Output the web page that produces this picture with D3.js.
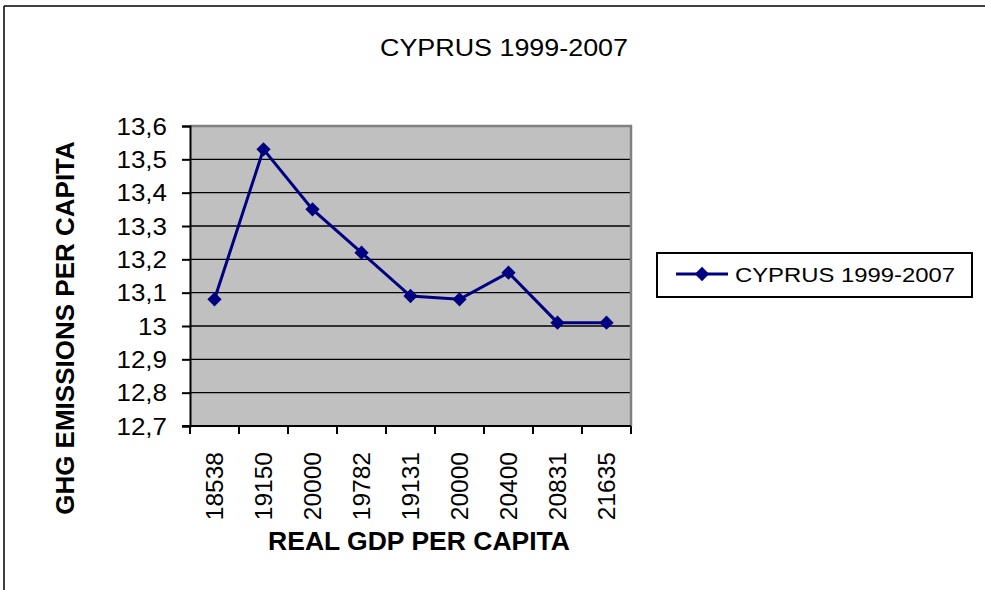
<!DOCTYPE html>
<html>
<head>
<meta charset="utf-8">
<script src="https://cdn.jsdelivr.net/npm/d3@7"></script>
<style>
  html, body { margin: 0; padding: 0; background: #fff; }
  svg { display: block; font-family: Arial, "Liberation Sans", sans-serif; }
</style>
</head>
<body>
<div id="chart"></div>
<script>
// data
const gdpLabels = ["18538", "19150", "20000", "19782", "19131", "20000", "20400", "20831", "21635"]
const ghgValues = [13.08, 13.53, 13.35, 13.22, 13.09, 13.08, 13.16, 13.01, 13.01]
const yTickValues = [12.7, 12.8, 12.9, 13.0, 13.1, 13.2, 13.3, 13.4, 13.5, 13.6]
const chartTitle = "CYPRUS 1999-2007"
const seriesName = "CYPRUS 1999-2007"

const W = 985, H = 590
const plot = { left: 190, top: 126, right: 631, bottom: 426 }

const svg = d3.select("#chart").append("svg")
    .attr("width", W)
    .attr("height", H)

// outer frame (only top and left edges are visible)
svg.append("line").attr("x1", 4).attr("x2", W).attr("y1", 6).attr("y2", 6)
    .attr("stroke", "#000").attr("stroke-width", 1.5)
svg.append("line").attr("x1", 4).attr("x2", 4).attr("y1", 6).attr("y2", H)
    .attr("stroke", "#000").attr("stroke-width", 1.5)

const x = d3.scaleBand()
    .domain(gdpLabels.map((d, i) => i))
    .range([plot.left, plot.right])
const y = d3.scaleLinear()
    .domain([12.7, 13.6])
    .range([plot.bottom, plot.top])

const comma = d3.formatLocale({ decimal: ",", thousands: ".", grouping: [3], currency: ["", ""] })
const fmt = v => comma.format(".1f")(v).replace(",0", "")

// plot background
svg.append("rect")
    .attr("x", plot.left).attr("y", plot.top)
    .attr("width", plot.right - plot.left).attr("height", plot.bottom - plot.top)
    .attr("fill", "#c0c0c0")

// gridlines
svg.append("g").selectAll("line")
    .data(yTickValues.slice(1, -1))
    .enter().append("line")
    .attr("x1", plot.left).attr("x2", plot.right)
    .attr("y1", d => y(d)).attr("y2", d => y(d))
    .attr("stroke", "#000").attr("stroke-width", 1.3)

// gray top and right border
svg.append("path")
    .attr("d", `M${plot.left},${plot.top}H${plot.right}V${plot.bottom}`)
    .attr("fill", "none").attr("stroke", "#808080").attr("stroke-width", 2.5)

// y axis
const yAxis = svg.append("g")
    .attr("transform", `translate(${plot.left},0)`)
    .call(d3.axisLeft(y).tickValues(yTickValues).tickSize(8).tickFormat(fmt))
yAxis.select(".domain").attr("stroke", "#000").attr("stroke-width", 2)
yAxis.selectAll(".tick line").attr("stroke", "#000").attr("stroke-width", 2)
yAxis.selectAll(".tick text")
    .attr("x", null).attr("dy", null)
    .attr("font-size", 23)
    .attr("fill", "#000")
    .attr("text-anchor", "end")
    .attr("transform", "translate(-23,8) scale(1.13,1)")

// x axis: ticks on category boundaries
const xBounds = gdpLabels.map((d, i) => x(i)).concat([plot.right])
svg.append("line")
    .attr("x1", plot.left - 8).attr("x2", plot.right)
    .attr("y1", plot.bottom).attr("y2", plot.bottom)
    .attr("stroke", "#000").attr("stroke-width", 2)
svg.append("g").selectAll("line")
    .data(xBounds)
    .enter().append("line")
    .attr("x1", d => d).attr("x2", d => d)
    .attr("y1", plot.bottom).attr("y2", plot.bottom + 8)
    .attr("stroke", "#000").attr("stroke-width", 2)

svg.append("g").selectAll("text")
    .data(gdpLabels)
    .enter().append("text")
    .attr("transform", (d, i) => `translate(${x(i) + x.bandwidth() / 2},452) rotate(-90)`)
    .attr("dy", "0.36em")
    .attr("text-anchor", "end")
    .attr("font-size", 24.5)
    .attr("fill", "#000")
    .text(d => d)

// series line and markers
const line = d3.line()
    .x((d, i) => x(i) + x.bandwidth() / 2)
    .y(d => y(d))
svg.append("path")
    .datum(ghgValues)
    .attr("d", line)
    .attr("fill", "none")
    .attr("stroke", "#000080")
    .attr("stroke-width", 3)

const diamond = d3.symbol().type(d3.symbolDiamond2).size(130)
svg.append("g").selectAll("path")
    .data(ghgValues)
    .enter().append("path")
    .attr("d", diamond)
    .attr("transform", (d, i) => `translate(${x(i) + x.bandwidth() / 2},${y(d)})`)
    .attr("fill", "#000080")

// titles
svg.append("text")
    .attr("x", 380).attr("y", 56)
    .attr("font-size", 23)
    .attr("textLength", 248).attr("lengthAdjust", "spacingAndGlyphs")
    .text(chartTitle)

svg.append("text")
    .attr("x", 419).attr("y", 550)
    .attr("text-anchor", "middle")
    .attr("font-size", 26.5).attr("font-weight", "bold")
    .text("REAL GDP PER CAPITA")

svg.append("text")
    .attr("transform", "translate(74,328) rotate(-90)")
    .attr("text-anchor", "middle")
    .attr("font-size", 26).attr("font-weight", "bold")
    .text("GHG EMISSIONS PER CAPITA")

// legend
const legend = svg.append("g")
legend.append("rect")
    .attr("x", 657).attr("y", 253).attr("width", 315).attr("height", 44)
    .attr("fill", "#fff").attr("stroke", "#000").attr("stroke-width", 2)
legend.append("line")
    .attr("x1", 676).attr("x2", 728).attr("y1", 274).attr("y2", 274)
    .attr("stroke", "#000080").attr("stroke-width", 3)
legend.append("path")
    .attr("d", diamond)
    .attr("transform", "translate(702,274)")
    .attr("fill", "#000080")
legend.append("text")
    .attr("x", 735).attr("y", 282)
    .attr("font-size", 21)
    .attr("textLength", 220).attr("lengthAdjust", "spacingAndGlyphs")
    .text(seriesName)
</script>
</body>
</html>
